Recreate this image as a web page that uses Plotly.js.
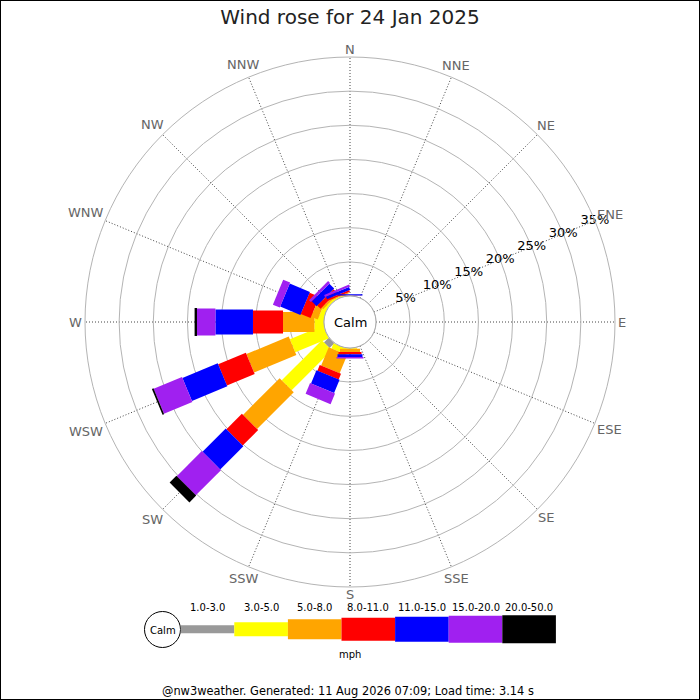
<!DOCTYPE html>
<html>
<head>
<meta charset="utf-8">
<script src="https://cdn.plot.ly/plotly-3.0.1.min.js"></script>
<style>
  html, body { margin: 0; padding: 0; background: #fff; }
  #chart { width: 700px; height: 700px; }
</style>
</head>
<body>
<div id="chart"></div>
<script>
// ---------- data ----------
const directions = ['N','NNE','NE','ENE','E','ESE','SE','SSE','S','SSW','SW','WSW','W','WNW','NW','NNW'];
const directionAngles = [0,22.5,45,67.5,90,112.5,135,157.5,180,202.5,225,247.5,270,292.5,315,337.5];
const speedClasses = ['1.0-3.0','3.0-5.0','5.0-8.0','8.0-11.0','11.0-15.0','15.0-20.0','20.0-50.0'];
// percent of time, per direction (same order as `directions`)
const pct_1_3   = [0,0,0,0,0,0,0,0,0,   0,   1.0, 0,   0,   0,   0,   0];
const pct_3_5   = [0.02,0,0,0,0,0,0,0,0.1, 0.8, 8.3, 5.3, 1.4, 0.7, 0.3, 0.15];
const pct_5_8   = [0.02,0,0,0,0,0,0,0,0.5, 2.9, 7.6, 6.7, 4.6, 1.05,0.3, 0.15];
const pct_8_11  = [0.02,0,0,0,0,0,0,0,0.3, 0.9, 3.2, 4.4, 4.4, 1.55,0.7, 0.25];
const pct_11_15 = [0.18,0,0,0,0,0,0,0,0.4, 2.1, 4.8, 5.6, 5.5, 3.2, 1.0, 0.45];
const pct_15_20 = [0,0,0,0,0,0,0,0,0.25, 1.7, 5.2, 4.5, 2.7, 1.1, 0.4, 0.3];
const pct_20_50 = [0,0,0,0,0,0,0,0,0,   0,   1.4, 0.25,0.35,0,   0,   0];
const classValues = [pct_1_3, pct_3_5, pct_5_8, pct_8_11, pct_11_15, pct_15_20, pct_20_50];
const radialTicks = [5,10,15,20,25,30,35];
const radialLabels = ['5%','10%','15%','20%','25%','30%','35%'];

// ---------- style ----------
const classColors = ['#999999','#ffff00','#ffa500','#ff0000','#0000ff','#a020f0','#000000'];
const classWidths = [8,14,20,23,25,27,28];
const FONT = 'DejaVu Sans, Verdana, sans-serif';
const S = 700;
const px = x => x / S;
const py = y => 1 - y / S;
const cx = 350, cy = 322, R = 265, hole = 26, RMAX = 35;

// ---------- traces ----------
const traces = [];
const cum = directions.map(() => 0);
classValues.forEach((vals, c) => {
  const r = [], th = [];
  vals.forEach((v, d) => {
    if (v > 0) {
      r.push(cum[d], cum[d] + v, null);
      th.push(directionAngles[d], directionAngles[d], null);
      cum[d] += v;
    }
  });
  traces.push({
    type: 'scatterpolar', mode: 'lines', r: r, theta: th,
    connectgaps: false, hoverinfo: 'skip', showlegend: false,
    line: { color: classColors[c], width: classWidths[c] }
  });
});
traces.push({
  type: 'scatterpolar', mode: 'text', r: radialTicks,
  theta: radialTicks.map(() => 67.5), text: radialLabels,
  textposition: 'middle center', cliponaxis: false,
  textfont: { family: FONT, size: 13, color: '#000' },
  hoverinfo: 'skip', showlegend: false
});

// ---------- shapes / annotations ----------
const shapes = [
  { type: 'rect', xref: 'paper', yref: 'paper', x0: 0, x1: 1, y0: 0, y1: 1,
    line: { color: '#000', width: 2 }, fillcolor: 'rgba(0,0,0,0)' },
  { type: 'circle', xref: 'paper', yref: 'paper',
    x0: px(cx - hole), x1: px(cx + hole), y0: py(cy + hole), y1: py(cy - hole),
    line: { color: '#aaaaaa', width: 1 }, fillcolor: '#ffffff' },
  { type: 'circle', xref: 'paper', yref: 'paper',
    x0: px(144.5), x1: px(180.5), y0: py(647.5), y1: py(611.5),
    line: { color: '#000', width: 1 }, fillcolor: '#ffffff' }
];
const annotations = [
  { text: 'Calm', xref: 'paper', yref: 'paper', x: px(cx), y: py(cy), showarrow: false,
    font: { family: FONT, size: 13, color: '#000' }, xanchor: 'center', yanchor: 'middle' },
  { text: 'Calm', xref: 'paper', yref: 'paper', x: px(162.5), y: py(630), showarrow: false,
    font: { family: FONT, size: 10, color: '#000' }, xanchor: 'center', yanchor: 'middle' },
  { text: 'mph', xref: 'paper', yref: 'paper', x: px(350.5), y: py(654), showarrow: false,
    font: { family: FONT, size: 10, color: '#000' }, xanchor: 'center', yanchor: 'middle' },
  { text: '@nw3weather. Generated: 11 Aug 2026 07:09; Load time: 3.14 s', xref: 'paper', yref: 'paper',
    x: px(348), y: py(691), showarrow: false,
    font: { family: FONT, size: 11.4, color: '#000' }, xanchor: 'center', yanchor: 'middle' }
];
// compass labels just outside the outer ring
const charW = { N: 0.748, E: 0.632, S: 0.635, W: 0.989 };
const LBL = 13, capH = 0.73 * LBL;
directions.forEach((d, i) => {
  const w = d.split('').reduce((s, ch) => s + charW[ch], 0) * LBL;
  const a = directionAngles[i] * Math.PI / 180;
  const dist = R + 3 + Math.abs(Math.sin(a)) * w / 2 + Math.abs(Math.cos(a)) * capH / 2;
  annotations.push({ text: d, xref: 'paper', yref: 'paper',
    x: px(cx + dist * Math.sin(a)), y: py(cy - dist * Math.cos(a)),
    showarrow: false, xanchor: 'center', yanchor: 'middle',
    font: { family: FONT, size: LBL, color: '#666' } });
});
const legX0 = 180.7, legW = 53.6, legCY = 629.3;
speedClasses.forEach((lab, i) => {
  const x0 = legX0 + i * legW, x1 = x0 + legW, h = classWidths[i];
  shapes.push({ type: 'rect', xref: 'paper', yref: 'paper',
    x0: px(x0), x1: px(x1), y0: py(legCY + h / 2), y1: py(legCY - h / 2),
    line: { width: 0 }, fillcolor: classColors[i] });
  annotations.push({ text: lab, xref: 'paper', yref: 'paper', x: px((x0 + x1) / 2), y: py(607),
    showarrow: false, xanchor: 'center', yanchor: 'middle',
    font: { family: FONT, size: 10, color: '#000' } });
});

// ---------- layout ----------
const layout = {
  width: 700, height: 700,
  margin: { l: 0, r: 0, t: 0, b: 0 },
  paper_bgcolor: '#fff',
  font: { family: FONT },
  showlegend: false,
  hovermode: false,
  title: { text: 'Wind rose for 24 Jan 2025', x: 0.5, xanchor: 'center',
           y: py(17), yanchor: 'middle', font: { family: FONT, size: 20, color: '#222' } },
  polar: {
    domain: { x: [px(cx - R), px(cx + R)], y: [py(cy + R), py(cy - R)] },
    hole: hole / R,
    bgcolor: '#fff',
    radialaxis: {
      range: [0, RMAX], tickvals: radialTicks, showticklabels: false, ticks: '',
      showline: false, gridcolor: '#b4b4b4', gridwidth: 1
    },
    angularaxis: {
      direction: 'clockwise', rotation: 90, thetaunit: 'degrees',
      tickmode: 'array', tickvals: directionAngles, showticklabels: false,
      ticks: '', showline: true, linecolor: '#b4b4b4', linewidth: 1,
      gridcolor: '#444', gridwidth: 1, griddash: '1px,2px'
    }
  },
  shapes: shapes,
  annotations: annotations
};

Plotly.newPlot('chart', traces, layout, { displayModeBar: false, staticPlot: true });
</script>
</body>
</html>
